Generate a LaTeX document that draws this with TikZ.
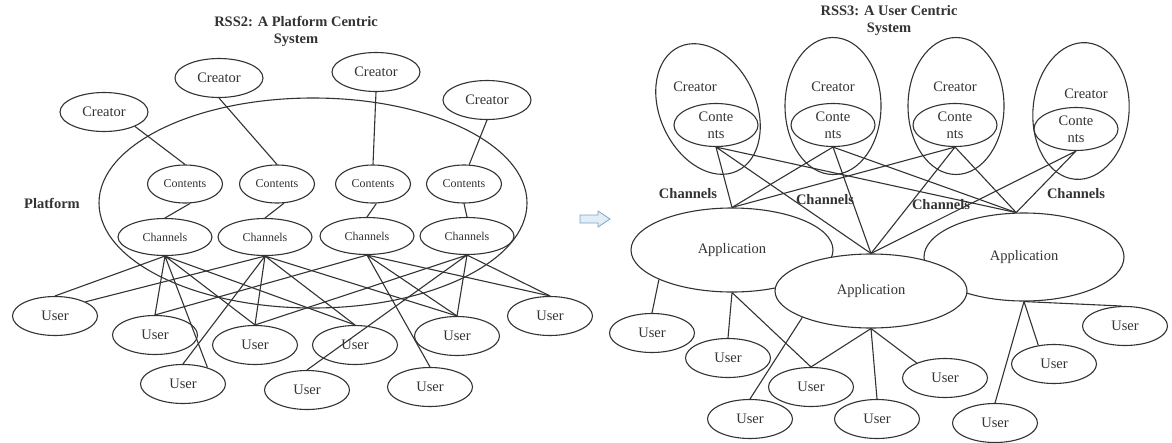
\documentclass[tikz,border=0pt]{standalone}
\usepackage{fontspec}
\setmainfont{Liberation Serif}
\usepackage{tikz}
\usetikzlibrary{shapes.geometric}
\definecolor{ink}{gray}{0.2}
\definecolor{arrowline}{RGB}{120,165,200}
\definecolor{arrowfill}{RGB}{226,237,246}
\tikzset{
  oval/.style={ellipse, draw=ink, line width=1.1pt, inner sep=0pt},
  creatorL/.style={oval, minimum width=88pt, minimum height=39pt},
  contentsL/.style={oval, minimum width=75pt, minimum height=38pt, font=\fontsize{12}{14}\selectfont},
  channelsL/.style={oval, minimum width=94pt, minimum height=37pt, font=\fontsize{12}{14}\selectfont},
  userbox/.style={oval, minimum width=85pt, minimum height=39pt},
  creatorR/.style={oval, minimum width=96pt, minimum height=137pt},
  contentsR/.style={oval, minimum width=84pt, minimum height=43pt, align=center},
  appbox/.style={oval, fill=white},
  heading/.style={font=\fontsize{14.5}{17}\selectfont\bfseries, align=center},
  plain/.style={inner sep=0pt}
}

\begin{document}
\begin{tikzpicture}[x=1pt, y=-1pt, color=ink, line width=1.1pt,
    every node/.append style={font=\fontsize{14.5}{17}\selectfont}]
  \useasboundingbox (0,0) rectangle (1172,442);

  \node[heading] (titleL) at (296,31) {RSS2: A Platform Centric\\System};
  \node[heading] (platformLabel) at (52,203) {Platform};
  \node[oval, minimum width=428pt, minimum height=210pt] (platform) at (313,203) {};

  \node[creatorL] (Lcreator1) at (104,112) {Creator};
  \node[creatorL] (Lcreator2) at (219,78) {Creator};
  \node[creatorL] (Lcreator3) at (376,72) {Creator};
  \node[creatorL] (Lcreator4) at (487,100) {Creator};

  \node[contentsL] (Lcontents1) at (185,184) {Contents};
  \node[contentsL] (Lcontents2) at (277,184) {Contents};
  \node[contentsL] (Lcontents3) at (373,184) {Contents};
  \node[contentsL] (Lcontents4) at (464,184) {Contents};

  \node[channelsL] (Lchannels1) at (165,237) {Channels};
  \node[channelsL] (Lchannels2) at (265,237) {Channels};
  \node[channelsL] (Lchannels3) at (367,236) {Channels};
  \node[channelsL] (Lchannels4) at (467,236) {Channels};

  \node[userbox] (Luser1) at (55,316) {User};
  \node[userbox] (Luser2) at (155,335) {User};
  \node[userbox] (Luser3) at (183,384) {User};
  \node[userbox] (Luser4) at (255,345) {User};
  \node[userbox] (Luser5) at (355,345) {User};
  \node[userbox] (Luser6) at (307,390) {User};
  \node[userbox] (Luser7) at (457,336) {User};
  \node[userbox] (Luser8) at (430,387) {User};
  \node[userbox] (Luser9) at (550,316) {User};

  \draw (Lcreator1.-25) -- (Lcontents1.north)
        (Lcreator2.south) -- (Lcontents2.north)
        (Lcreator3.south) -- (Lcontents3.north)
        (Lcreator4.south) -- (Lcontents4.75);
  \draw (Lcontents1.-75) -- (Lchannels1.north)
        (Lcontents2.-70) -- (Lchannels2.north)
        (Lcontents3.-80) -- (Lchannels3.north)
        (Lcontents4.south) -- (Lchannels4.north);
  \draw (Lchannels1.south) -- (Luser1.north)
        (Lchannels1.south) -- (Luser2.north)
        (Lchannels1.south) -- (Luser3.34)
        (Lchannels1.south) -- (Luser4.north)
        (Lchannels1.south) -- (Luser5.north);
  \draw (Lchannels2.south) -- (Luser1.25)
        (Lchannels2.south) -- (Luser3.north)
        (Lchannels2.south) -- (Luser4.north)
        (Lchannels2.south) -- (Luser5.north)
        (Lchannels2.south) -- (Luser7.north);
  \draw (Lchannels3.south) -- (Luser2.north)
        (Lchannels3.south) -- (Luser7.north)
        (Lchannels3.south) -- (Luser8.north)
        (Lchannels3.south) -- (Luser9.north);
  \draw (Lchannels4.south) -- (Luser4.north)
        (Lchannels4.south) -- (Luser6.north)
        (Lchannels4.south) -- (Luser7.north)
        (Lchannels4.south) -- (Luser9.north);

  \draw[draw=arrowline, fill=arrowfill, line width=0.8pt]
    (580,215) -- (598,215) -- (598,211) -- (610,219) -- (598,227) -- (598,223) -- (580,223) -- cycle;

  \node[heading] (titleR) at (889,21) {RSS3: A User Centric\\System};

  \node[creatorR, rotate=25] (Rcreator1) at (708,109) {};
  \node[creatorR] (Rcreator2) at (833,106) {};
  \node[creatorR] (Rcreator3) at (956,106) {};
  \node[creatorR, rotate=-5] (Rcreator4) at (1081,111) {};
  \node[plain] (Rname1) at (695,87) {Creator};
  \node[plain] (Rname2) at (833,87) {Creator};
  \node[plain] (Rname3) at (955,87) {Creator};
  \node[plain] (Rname4) at (1086,94) {Creator};

  \node[contentsR] (Rcontents1) at (716,125) {Conte\\nts};
  \node[contentsR] (Rcontents2) at (833,125) {Conte\\nts};
  \node[contentsR] (Rcontents3) at (955,125) {Conte\\nts};
  \node[contentsR] (Rcontents4) at (1076,129) {Conte\\nts};

  \node[heading] (Rchan1) at (688,194) {Channels};
  \node[heading] (Rchan2) at (825,200) {Channels};
  \node[heading] (Rchan3) at (941,205) {Channels};
  \node[heading] (Rchan4) at (1076,194) {Channels};

  \node[appbox, minimum width=202pt, minimum height=84pt] (Rapp1) at (732,250) {Application};
  \node[appbox, minimum width=200pt, minimum height=88pt] (Rapp3) at (1024,257) {Application};
  \node[appbox, minimum width=192pt, minimum height=74pt] (Rapp2) at (871,291) {Application};

  \node[userbox] (Ruser1) at (652,333) {User};
  \node[userbox] (Ruser2) at (728,358) {User};
  \node[userbox] (Ruser3) at (811,387) {User};
  \node[userbox] (Ruser4) at (750,419) {User};
  \node[userbox] (Ruser5) at (877,419) {User};
  \node[userbox] (Ruser6) at (945,378) {User};
  \node[userbox] (Ruser7) at (995,423) {User};
  \node[userbox] (Ruser8) at (1054,364) {User};
  \node[userbox] (Ruser9) at (1125,326) {User};

  \draw (Rcontents1.south) -- (Rapp1.north)
        (Rcontents1.south) -- (Rapp2.north)
        (Rcontents1.south) -- (Rapp3.100);
  \draw (Rcontents2.south) -- (Rapp1.north)
        (Rcontents2.south) -- (Rapp2.north)
        (Rcontents2.south) -- (Rapp3.100);
  \draw (Rcontents3.south) -- (Rapp1.north)
        (Rcontents3.south) -- (Rapp2.north)
        (Rcontents3.south) -- (Rapp3.100);
  \draw (Rcontents4.south) -- (Rapp2.north)
        (Rcontents4.south) -- (Rapp3.100);

  \draw (Rapp1.202) -- (Ruser1.north)
        (Rapp1.south) -- (Ruser2.north)
        (Rapp1.south) -- (Ruser3.north);
  \draw (Rapp2.201) -- (Ruser4.north)
        (Rapp2.south) -- (Ruser3.north)
        (Rapp2.south) -- (Ruser5.north)
        (Rapp2.south) -- (Ruser6.152);
  \draw (Rapp3.south) -- (Ruser7.north)
        (Rapp3.south) -- (Ruser8.130)
        (Rapp3.south) -- (Ruser9.100);
\end{tikzpicture}
\end{document}
